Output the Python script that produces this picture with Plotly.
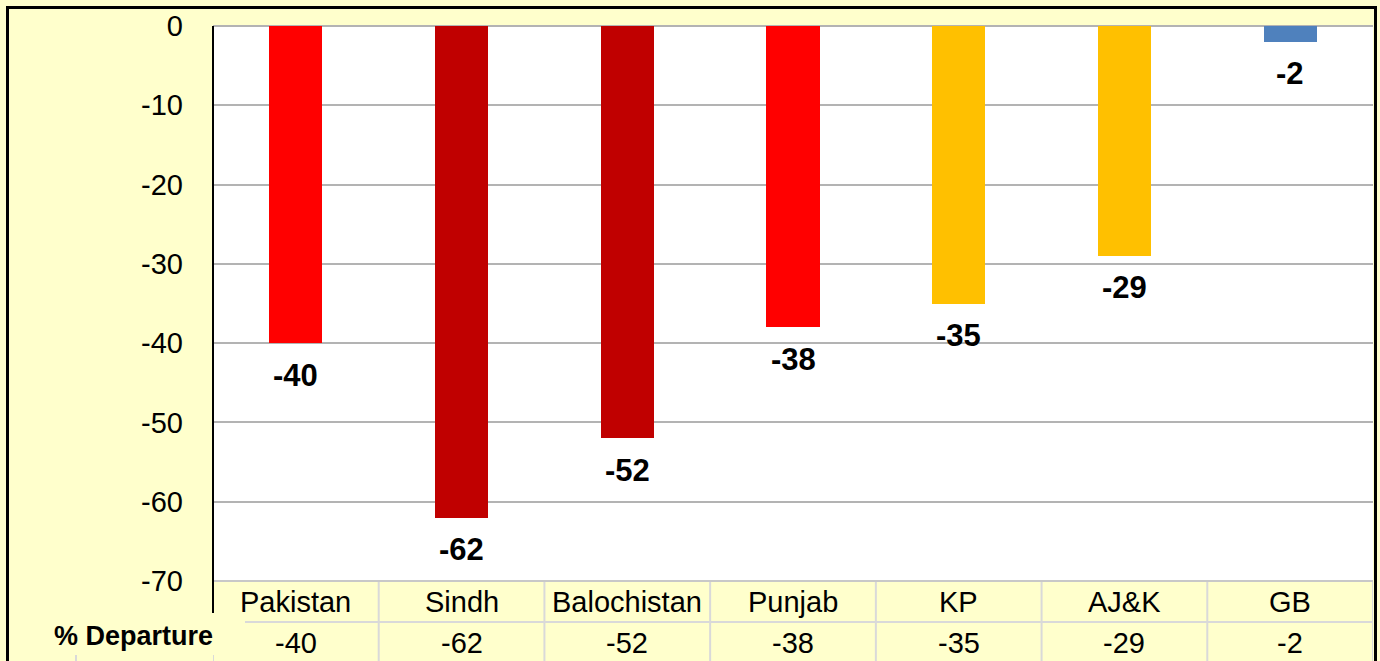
import plotly.graph_objects as go

categories = ["Pakistan", "Sindh", "Balochistan", "Punjab", "KP", "AJ&K", "GB"]
departure = [-40, -62, -52, -38, -35, -29, -2]
bar_colors = ["#FF0000", "#C00000", "#C00000", "#FF0000", "#FFC000", "#FFC000", "#4F81BD"]
y_ticks = [0, -10, -20, -30, -40, -50, -60, -70]
row_label = "% Departure"

W, H = 1380, 661
L, R, T, B = 213, 7, 26, 80
PH = H - T - B
PW = W - L - R
YELLOW = "#FFFFCC"
TABLE_LINE = "#D9D9D9"
FONT = "Liberation Sans, Arial, sans-serif"


def py(pix):
    return (H - B - pix) / PH


def px(pix):
    return (pix - L) / PW


fig = go.Figure()
fig.add_trace(go.Bar(
    x=list(range(len(categories))), y=departure,
    marker=dict(color=bar_colors, line=dict(width=0)),
    width=0.32, hoverinfo="skip",
))

shapes = []
annotations = []

# bar value labels
for i, v in enumerate(departure):
    annotations.append(dict(
        x=i, y=v, xref="x", yref="y", text=f"<b>{v}</b>", showarrow=False,
        yshift=-32, yanchor="middle",
        font=dict(family=FONT, size=31, color="black"),
    ))

# data table
row1_mid = py(602)
row2_mid = py(643)
for i, (c, v) in enumerate(zip(categories, departure)):
    annotations.append(dict(x=i, y=row1_mid, xref="x", yref="paper", text=c,
                            showarrow=False, yanchor="middle",
                            font=dict(family=FONT, size=29, color="black")))
    annotations.append(dict(x=i, y=row2_mid, xref="x", yref="paper", text=str(v),
                            showarrow=False, yanchor="middle",
                            font=dict(family=FONT, size=29, color="black")))

# table background
shapes.append(dict(type="rect", xref="paper", yref="paper", x0=0, x1=1,
                   y0=py(H + 5), y1=0, fillcolor=YELLOW, line=dict(width=0), layer="below"))
# vertical table lines
for k in range(len(categories) + 1):
    shapes.append(dict(type="line", xref="x", yref="paper", x0=k - 0.5, x1=k - 0.5,
                       y0=0, y1=py(H + 5), line=dict(color=TABLE_LINE, width=2)))
# horizontal table lines
shapes.append(dict(type="line", xref="paper", yref="paper", x0=0, x1=1, y0=0, y1=0,
                   line=dict(color="#C8C8C8", width=2)))
shapes.append(dict(type="line", xref="paper", yref="paper", x0=px(245), x1=1,
                   y0=py(622), y1=py(622), line=dict(color=TABLE_LINE, width=2)))
# left column of table (mostly covered)
shapes.append(dict(type="line", xref="paper", yref="paper", x0=px(76), x1=px(76),
                   y0=py(655), y1=py(H + 5), line=dict(color=TABLE_LINE, width=2)))
# y axis line
shapes.append(dict(type="line", xref="paper", yref="paper", x0=px(213), x1=px(213),
                   y0=1, y1=py(613), line=dict(color="black", width=2)))
# label box behind "% Departure"
shapes.append(dict(type="rect", xref="paper", yref="paper", x0=px(40), x1=px(245),
                   y0=py(655), y1=py(613), fillcolor=YELLOW, line=dict(width=0)))
annotations.append(dict(x=px(215), y=py(636), xref="paper", yref="paper",
                        text=f"<b>{row_label}</b>", showarrow=False,
                        xanchor="right", yanchor="middle",
                        font=dict(family=FONT, size=27, color="black")))
# outer border
shapes.append(dict(type="rect", xref="paper", yref="paper", x0=px(7.5), x1=px(1375.5),
                   y0=py(H + 10), y1=py(7.5), line=dict(color="black", width=3)))

fig.update_layout(
    width=W, height=H,
    margin=dict(l=L, r=R, t=T, b=B, pad=0),
    paper_bgcolor=YELLOW, plot_bgcolor="white",
    showlegend=False, bargap=0,
    font=dict(family=FONT, color="black"),
    shapes=shapes, annotations=annotations,
    xaxis=dict(range=[-0.5, len(categories) - 0.5], showticklabels=False,
               showgrid=False, zeroline=False, showline=False, fixedrange=True),
    yaxis=dict(range=[-70, 0], tickvals=y_ticks, ticktext=[str(t) for t in y_ticks],
               showgrid=True, gridcolor="#B3B3B3", gridwidth=2,
               zeroline=True, zerolinecolor="#B3B3B3", zerolinewidth=2,
               showline=False, ticks="", ticklabelstandoff=29,
               tickfont=dict(family=FONT, size=29, color="black"), fixedrange=True),
)

fig.write_html("out.html", config={"displayModeBar": False},
               post_script="document.body.style.margin='0';document.body.style.overflow='hidden';")
